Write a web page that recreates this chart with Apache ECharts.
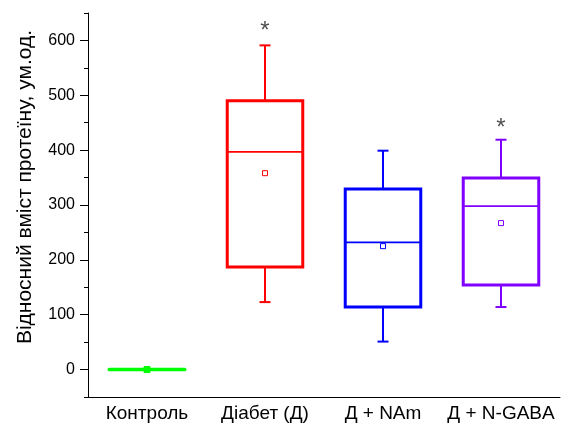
<!DOCTYPE html>
<html>
<head>
<meta charset="utf-8">
<script src="https://cdn.jsdelivr.net/npm/echarts@6/dist/echarts.min.js"></script>
<style>html,body{margin:0;padding:0;background:#fff;}#c{width:576px;height:426px;}</style>
</head>
<body>
<div id="c"></div>
<script>
// ---- data ----
const categories = ['Контроль', 'Діабет (Д)', 'Д + NAm', 'Д + N-GABA'];
const whiskerLow  = [0, 123, 51, 114];
const q1          = [0, 187, 114, 154];
const median      = [0, 397, 232, 298];
const q3          = [0, 490, 329, 349];
const whiskerHigh = [0, 591, 399, 419];
const means       = [0, 358, 225, 267];
const starCategories = [1, 3];
const starValues     = [626, 448];
const yMajorTicks = [0, 100, 200, 300, 400, 500, 600];
const yMinorTicks = [-50, 50, 150, 250, 350, 450, 550, 650];
const yTitle = 'Відносний вміст протеїну, ум.од.';

// ---- style ----
const colors = ['#00FF00', '#FF0000', '#0000FF', '#8000FF'];
const FONT = 'Liberation Sans, Arial, sans-serif';

const boxData = categories.map((c, i) => [i, whiskerLow[i], q1[i], median[i], q3[i], whiskerHigh[i], means[i]]);

function renderItem(params, api) {
  const i = api.value(0);
  const col = colors[i];
  const pLo = api.coord([i, api.value(1)]);
  const pQ1 = api.coord([i, api.value(2)]);
  const pMed = api.coord([i, api.value(3)]);
  const pQ3 = api.coord([i, api.value(4)]);
  const pHi = api.coord([i, api.value(5)]);
  const pMean = api.coord([i, api.value(6)]);
  const bw = api.size([1, 0])[0] * 0.64;
  const cx = pMed[0];
  const cap = 5.5;
  const isFlat = Math.abs(pHi[1] - pLo[1]) < 1;
  const children = [];
  if (isFlat) {
    children.push({type: 'line', shape: {x1: cx - bw / 2, y1: pMed[1], x2: cx + bw / 2, y2: pMed[1]},
      style: {stroke: col, lineWidth: 3.5, lineCap: 'round'}});
    children.push({type: 'rect', shape: {x: pMean[0] - 3, y: pMean[1] - 3, width: 6, height: 6},
      style: {fill: col, stroke: col, lineWidth: 1}});
    return {type: 'group', children};
  }
  children.push({type: 'line', shape: {x1: cx, y1: pHi[1], x2: cx, y2: pQ3[1]}, style: {stroke: col, lineWidth: 2}});
  children.push({type: 'line', shape: {x1: cx, y1: pQ1[1], x2: cx, y2: pLo[1]}, style: {stroke: col, lineWidth: 2}});
  children.push({type: 'line', shape: {x1: cx - cap, y1: pHi[1], x2: cx + cap, y2: pHi[1]}, style: {stroke: col, lineWidth: 2}});
  children.push({type: 'line', shape: {x1: cx - cap, y1: pLo[1], x2: cx + cap, y2: pLo[1]}, style: {stroke: col, lineWidth: 2}});
  children.push({type: 'rect', shape: {x: cx - bw / 2, y: pQ3[1], width: bw, height: pQ1[1] - pQ3[1]},
    style: {fill: 'none', stroke: col, lineWidth: 3}});
  children.push({type: 'line', shape: {x1: cx - bw / 2, y1: pMed[1], x2: cx + bw / 2, y2: pMed[1]}, style: {stroke: col, lineWidth: 1.7}});
  children.push({type: 'rect', shape: {x: pMean[0] - 2.5, y: pMean[1] - 2.5, width: 5, height: 5},
    style: {fill: '#fff', stroke: col, lineWidth: 1}});
  return {type: 'group', children};
}

const chart = echarts.init(document.getElementById('c'), null, {renderer: 'canvas'});
chart.setOption({
  animation: false,
  backgroundColor: '#fff',
  grid: {left: 88, right: 16, top: 13, bottom: 29, containLabel: false},
  xAxis: {
    type: 'category',
    data: categories,
    boundaryGap: true,
    axisLine: {onZero: false, lineStyle: {color: '#000', width: 1}},
    axisTick: {alignWithLabel: true, length: 6, lineStyle: {color: '#000'}},
    axisLabel: {interval: 0, color: '#000', fontFamily: FONT, fontSize: 19, margin: 7},
    splitLine: {show: false}
  },
  yAxis: [{
    type: 'value', min: -50, max: 650,
    name: yTitle, nameLocation: 'middle', nameGap: 52, nameRotate: 90,
    nameTextStyle: {color: '#000', fontFamily: FONT, fontSize: 21, padding: [0, 0, 0, 36]},
    axisLine: {show: true, lineStyle: {color: '#000', width: 1}},
    axisTick: {show: true, length: 8, customValues: yMajorTicks, lineStyle: {color: '#000'}},
    axisLabel: {color: '#000', fontFamily: FONT, fontSize: 16, margin: 13, customValues: yMajorTicks},
    splitLine: {show: false}
  }, {
    type: 'value', min: -50, max: 650, position: 'left',
    axisLine: {show: false},
    axisTick: {show: true, length: 4, customValues: yMinorTicks, lineStyle: {color: '#000'}},
    axisLabel: {show: false},
    splitLine: {show: false}
  }],
  series: [{
    type: 'custom',
    renderItem: renderItem,
    encode: {x: 0, y: [1, 2, 3, 4, 5, 6]},
    data: boxData,
    z: 3
  }, {
    type: 'scatter',
    symbolSize: 0,
    data: starCategories.map((c, k) => [c, starValues[k]]),
    label: {show: true, position: 'inside', offset: [0, 5], formatter: '*', color: '#222', fontFamily: FONT, fontSize: 24}
  }]
});
</script>
</body>
</html>
